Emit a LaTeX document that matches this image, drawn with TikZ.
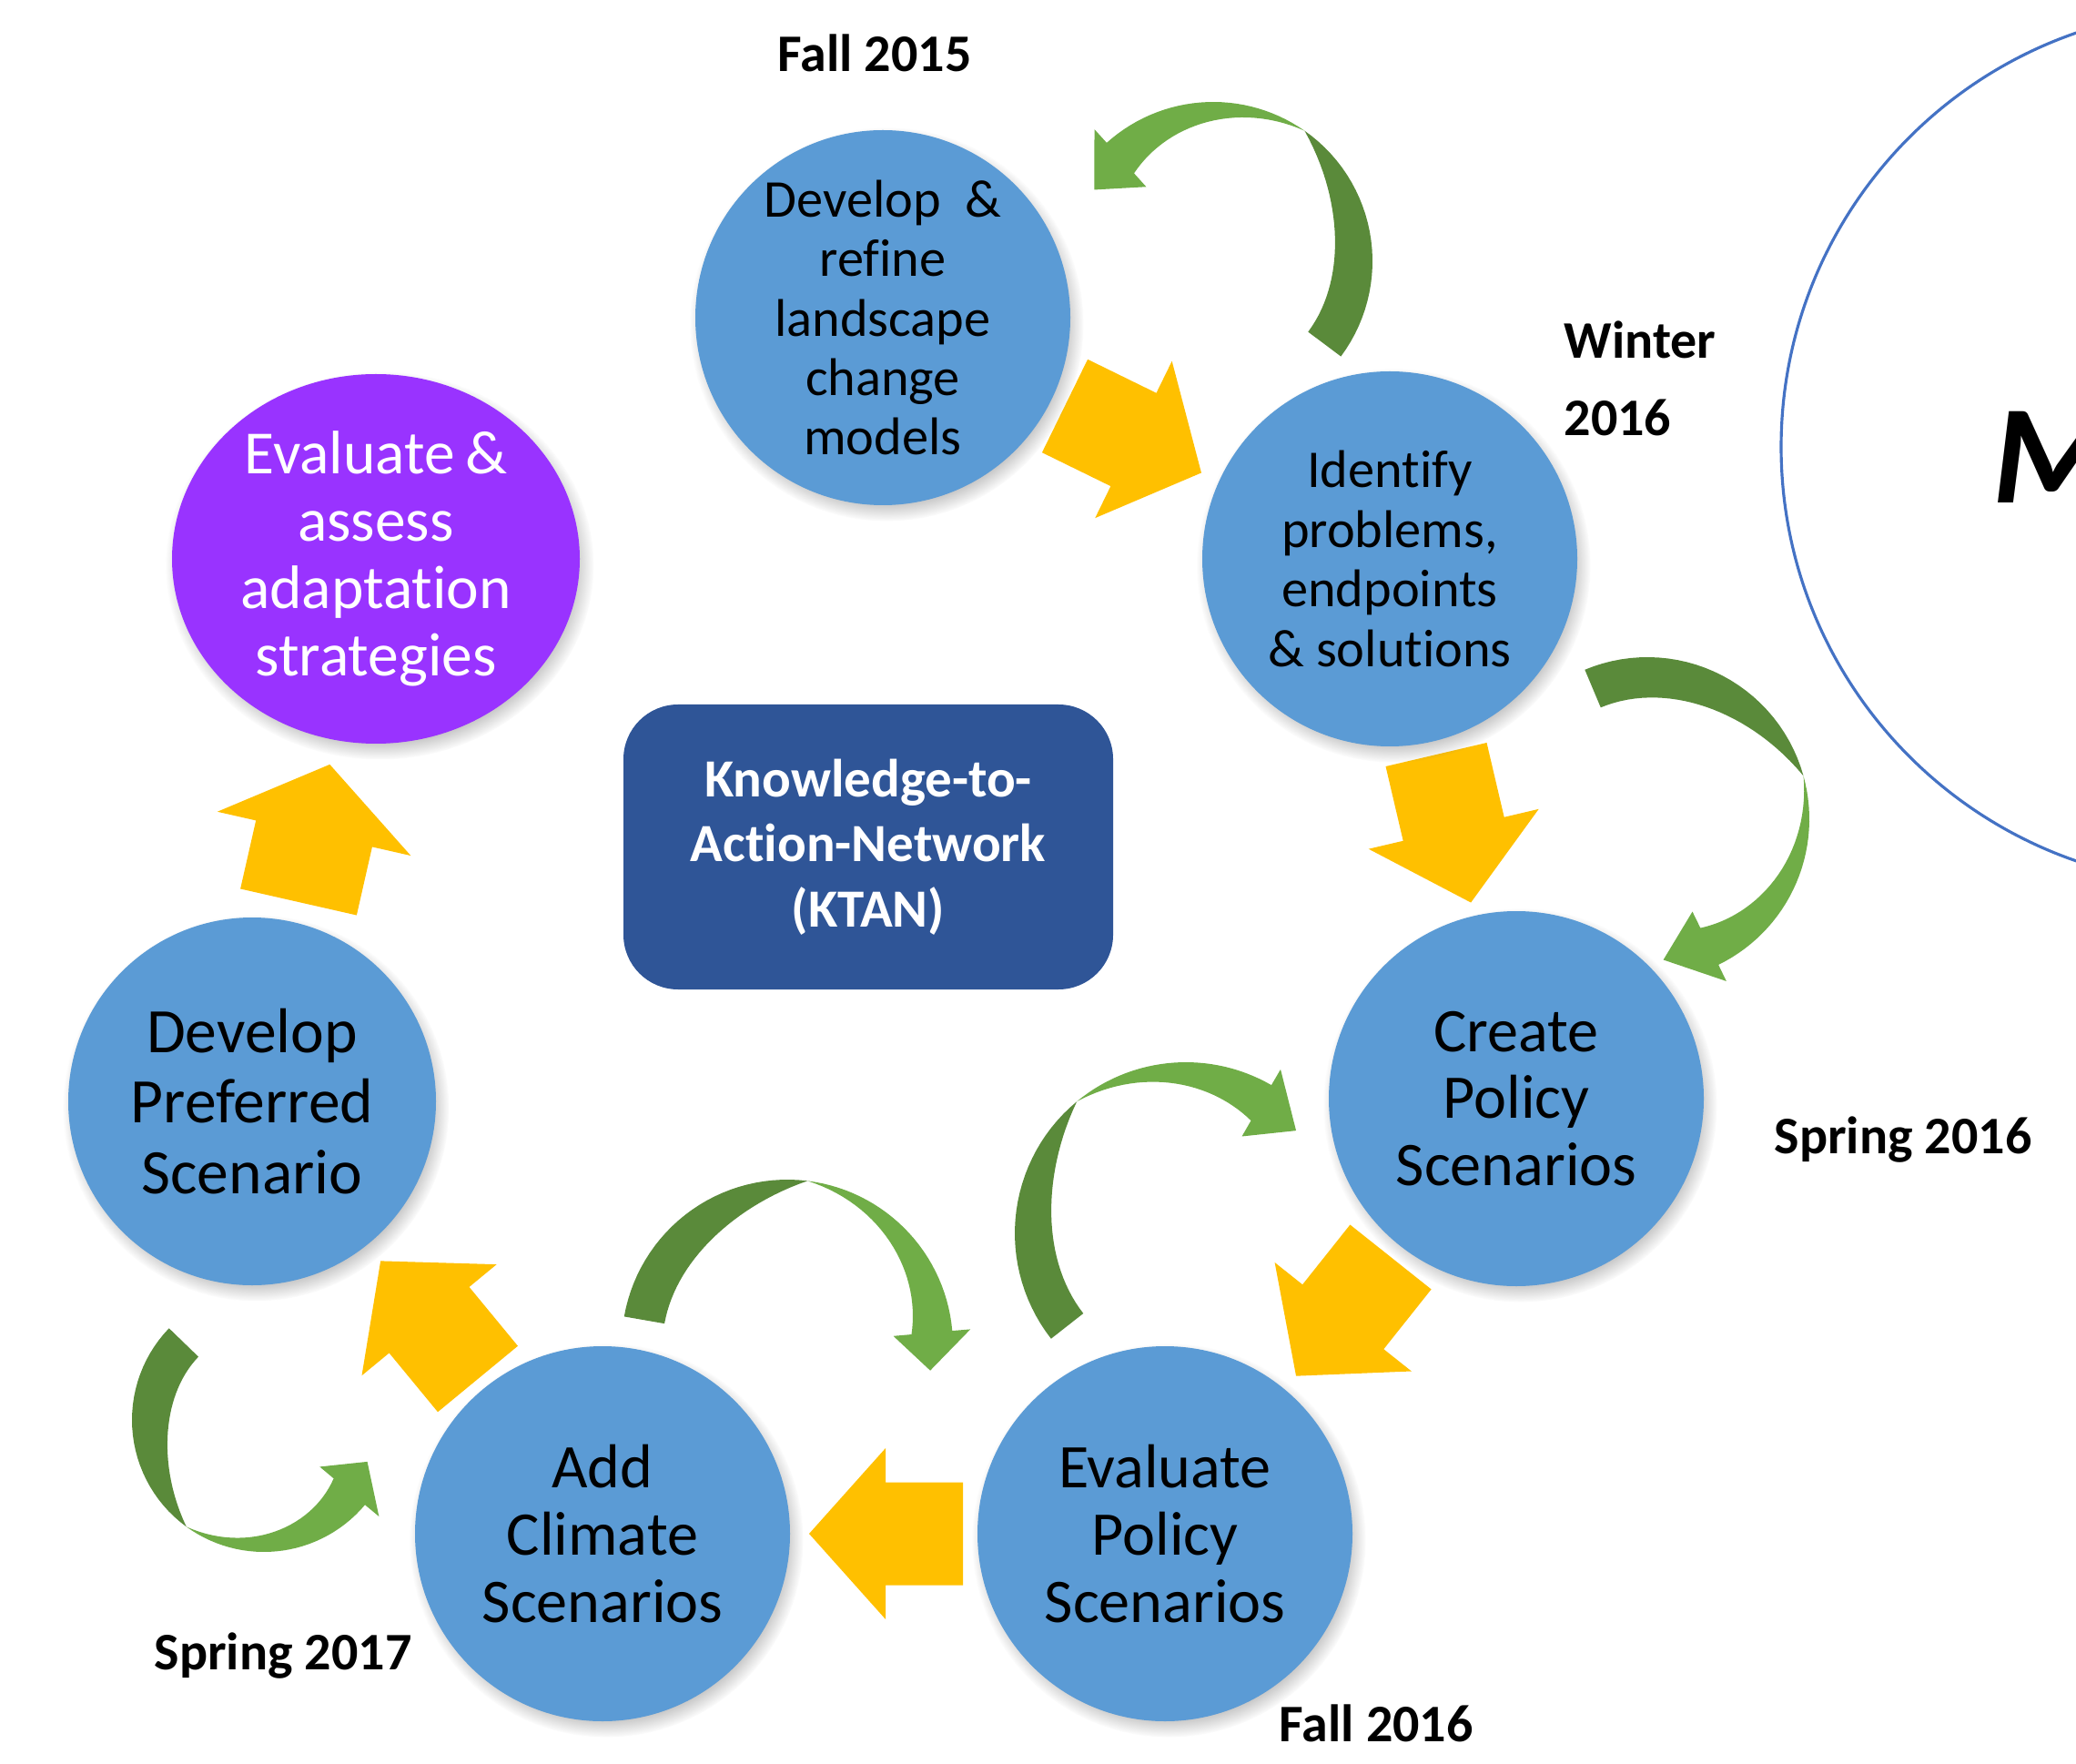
\documentclass[tikz,border=0pt]{standalone}
\usepackage{fontspec}
\setmainfont{Carlito}[Ligatures=NoCommon]
\usetikzlibrary{shapes.geometric,shadows,fadings}
\definecolor{stepblue}{RGB}{91,155,213}
\definecolor{adaptpurple}{RGB}{153,51,255}
\definecolor{ktanblue}{RGB}{47,85,151}
\definecolor{flowyellow}{RGB}{255,192,0}
\definecolor{loopgreen}{RGB}{112,173,71}
\definecolor{loopdark}{RGB}{90,138,58}
\definecolor{ringblue}{RGB}{68,114,196}

\newcommand{\fsz}[2]{\fontsize{#1}{#2}\selectfont}

\begin{document}
\begin{tikzpicture}
  % planning cycle: stages, block arrows, feedback loops and seasons
  \tikzset{
    stage/.style={circle,fill=stepblue,minimum size=4.12cm,inner sep=0pt,align=center,
      circular drop shadow={shadow xshift=0.04cm,shadow yshift=-0.07cm,shadow scale=1.05,opacity=0.7}},
    season/.style={anchor=base west,inner sep=0pt,font=\fsz{16.5}{19}\bfseries},
  }
  \useasboundingbox (0,0) rectangle (22.81,-19.38);
  \clip (0,0) rectangle (22.81,-19.38);

  % big ring cut by the right edge
  \draw[ringblue,line width=0.9pt] (24.38,-4.91) circle (4.81);
  \node[anchor=base west,inner sep=0pt,font=\fsz{44}{50}\bfseries\itshape] (mark) at (21.89,-5.53) {M};

  % yellow block arrows: tail centre, angle, length, tail length, tail width, head width
  \foreach \x/\y/\ang/\len/\tl/\tw/\hw in {
      11.70/-4.46/-26.1/1.67/0.84/1.14/1.92,
      15.78/-8.29/-76.8/1.67/0.84/1.14/1.92,
      15.28/-13.81/-128.5/1.67/0.84/1.14/1.92,
      10.58/-16.85/180/1.69/0.85/1.13/1.88,
      5.25/-15.15/129.5/1.68/0.84/1.14/1.92,
      3.28/-9.91/77.2/1.55/0.77/1.31/2.18}
    \fill[flowyellow,shift={(\x,\y)},rotate=\ang]
      (0,\tw/2) -- (\tl,\tw/2) -- (\tl,\hw/2) -- (\len,0) -- (\tl,-\hw/2) -- (\tl,-\tw/2) -- (0,-\tw/2) -- cycle;

  % green loops: centre, radius, tail angle, twist angle, head angle, head sweep
  \foreach \cx/\cy/\rad/\ta/\tm/\tb/\dt in {
      13.33/-2.87/1.75/-36.7/55/132/17,
      18.10/-9.00/1.78/112.7/15.5/-64/-19.5,
      13.03/-13.55/1.88/218/129.6/60/-17,
      8.65/-14.78/1.82/170/83/5/-15,
      2.90/-15.60/1.45/136/234/320/18}{
    \begin{scope}[shift={(\cx,\cy)}]
      % darker underside, tail to twist
      \fill[loopdark] plot[variable=\q,domain=0:1,samples=30] ({\ta+(\tm-\ta)*\q}:{\rad})
        -- plot[variable=\q,domain=0:1,samples=30] ({\tm+(\ta-\tm)*\q}:{\rad-0.45*(1-(1-\q)^3)}) -- cycle;
      % lighter top side with the head
      \fill[loopgreen] plot[variable=\q,domain=0:1,samples=30] ({\tm+(\tb-\tm)*\q}:{\rad})
        -- ({\tb}:{\rad+0.2}) -- ({\tb+\dt}:{\rad-0.225}) -- ({\tb}:{\rad-0.65})
        -- plot[variable=\q,domain=0:1,samples=30] ({\tb+(\tm-\tb)*\q}:{\rad-0.45*(1-\q)}) -- cycle;
    \end{scope}
  }

  % stages
  \node[stage,font=\fsz{16.6}{18.6}] (models) at (9.70,-3.49) {Develop~~\&\\refine\\landscape\\change\\models};
  \node[stage,font=\fsz{16.6}{18.6}] (problems) at (15.27,-6.14) {Identify\\problems,\\endpoints\\\& solutions};
  \node[stage,font=\fsz{19.4}{21}] (create) at (16.66,-12.07) {Create\\Policy\\Scenarios};
  \node[stage,font=\fsz{19.4}{21}] (evalpol) at (12.80,-16.85) {Evaluate\\Policy\\Scenarios};
  \node[stage,font=\fsz{19.4}{21}] (climate) at (6.62,-16.85) {Add\\Climate\\Scenarios};
  \node[stage,minimum size=4.04cm,font=\fsz{19.8}{22}] (preferred) at (2.77,-12.10) {Develop\\Preferred\\Scenario};
  \node[stage,ellipse,fill=adaptpurple,minimum width=4.48cm,minimum height=4.06cm,
    text=white,font=\fsz{19.2}{21}] (adapt) at (4.13,-6.14) {Evaluate\,\&\\assess\\adaptation\\strategies};

  % network box in the middle
  \node[fill=ktanblue,rounded corners=0.6cm,minimum width=5.38cm,minimum height=3.13cm,
    text=white,align=center,font=\fsz{16.8}{20.3}\bfseries] (ktan) at (9.54,-9.305)
    {Knowledge-to-\\Action-Network\\(KTAN)};

  % seasons
  \node[season] (fall15) at (8.54,-0.785) {Fall 2015};
  \node[season] (winter) at (17.18,-3.935) {Winter};
  \node[season] (winteryr) at (17.18,-4.785) {2016};
  \node[season] (spring16) at (19.49,-12.67) {Spring 2016};
  \node[season] (fall16) at (14.05,-19.13) {Fall 2016};
  \node[season] (spring17) at (1.69,-18.34) {Spring 2017};
\end{tikzpicture}
\end{document}
